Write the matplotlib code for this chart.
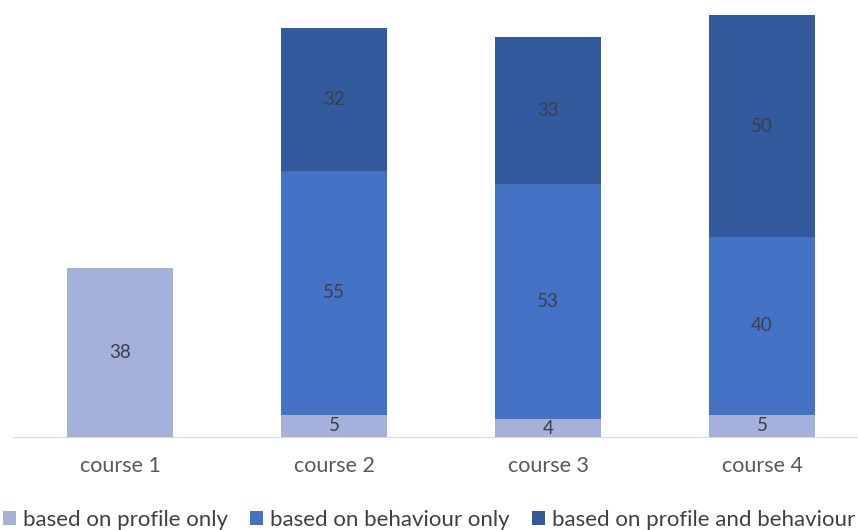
import matplotlib
matplotlib.use("Agg")
import matplotlib.pyplot as plt
import numpy as np

courses = ["course 1", "course 2", "course 3", "course 4"]
profile_only = [38, 5, 4, 5]
behaviour_only = [0, 55, 53, 40]
profile_and_behaviour = [0, 32, 33, 50]

series_names = ["based on profile only", "based on behaviour only",
                "based on profile and behaviour"]
colors = ["#A5B1DA", "#4472C4", "#345A9E"]

plt.rcParams["font.family"] = ["Lato", "DejaVu Sans"]

fig = plt.figure(figsize=(8.58, 5.30), dpi=100)
ax = fig.add_axes([13 / 858, 1 - 437 / 530, 856 / 858, 437 / 530])

x = np.arange(len(courses))
bottom = np.zeros(len(courses))
for name, vals, col in zip(series_names,
                           [profile_only, behaviour_only, profile_and_behaviour],
                           colors):
    vals = np.array(vals, dtype=float)
    ax.bar(x, vals, 0.495, bottom=bottom, color=col, label=name)
    for xi, v, b in zip(x, vals, bottom):
        if v > 0:
            ax.text(xi, b + v / 2, str(int(v)), ha="center", va="center",
                    fontsize=13.5, color="#3A3F4A")
    bottom += vals

ax.set_xlim(-0.5, 3.5)
ax.set_ylim(0, 98.4)
ax.set_yticks([])
for s in ["top", "right", "left"]:
    ax.spines[s].set_visible(False)
ax.spines["bottom"].set_color("#D9D9D9")
ax.set_xticks(x)
ax.set_xticklabels(courses, fontsize=15.5, color="#595959")
ax.tick_params(axis="x", length=0, pad=14)

fig.legend(loc="center", bbox_to_anchor=(0.5, 1 - 520 / 530), ncol=3,
           frameon=False, fontsize=16, labelcolor="#404040",
           handlelength=0.6, handleheight=0.6, handletextpad=0.3,
           columnspacing=1.0)

fig.savefig("out.png", dpi=100)
